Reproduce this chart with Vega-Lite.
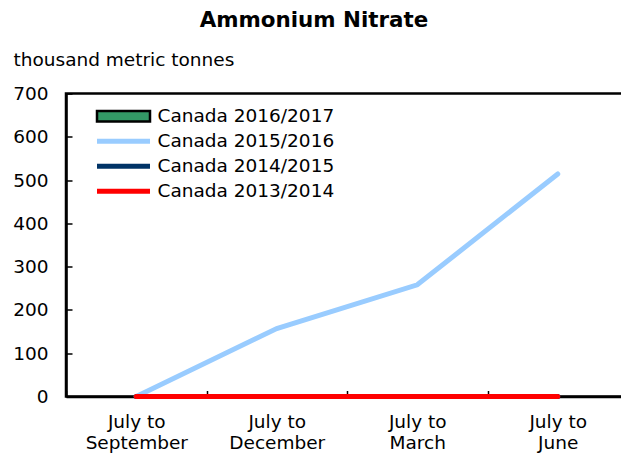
{
  "$schema": "https://vega.github.io/schema/vega-lite/v6.json",
  "autosize": "none",
  "width": 562,
  "height": 303,
  "padding": {"left": 66, "top": 93.5, "right": 0, "bottom": 58.5},
  "background": "white",
  "title": {
    "text": "Ammonium Nitrate",
    "font": "DejaVu Sans",
    "fontSize": 21.4,
    "fontWeight": "bold",
    "color": "black",
    "anchor": "middle",
    "frame": "group",
    "dx": -33,
    "baseline": "alphabetic",
    "offset": 2
  },
  "config": {
    "font": "DejaVu Sans",
    "view": {"stroke": "black", "strokeWidth": 2.5},
    "axis": {
      "labelFont": "DejaVu Sans",
      "labelFontSize": 18.5,
      "labelColor": "black",
      "titleFont": "DejaVu Sans",
      "titleFontSize": 18.5,
      "titleFontWeight": "normal",
      "titleColor": "black",
      "domainColor": "black",
      "domainWidth": 2.5,
      "tickColor": "black",
      "tickWidth": 1.5,
      "grid": false
    },
    "legend": {
      "labelFont": "DejaVu Sans",
      "labelFontSize": 18.5,
      "labelColor": "black",
      "labelLimit": 400
    }
  },
  "data": {
    "values": [
      {"period": "July to September", "series": "Canada 2016/2017", "value": null},
      {"period": "July to December", "series": "Canada 2016/2017", "value": null},
      {"period": "July to March", "series": "Canada 2016/2017", "value": null},
      {"period": "July to June", "series": "Canada 2016/2017", "value": null},
      {"period": "July to September", "series": "Canada 2015/2016", "value": 0},
      {"period": "July to December", "series": "Canada 2015/2016", "value": 157},
      {"period": "July to March", "series": "Canada 2015/2016", "value": 258},
      {"period": "July to June", "series": "Canada 2015/2016", "value": 514},
      {"period": "July to September", "series": "Canada 2014/2015", "value": 0},
      {"period": "July to December", "series": "Canada 2014/2015", "value": 0},
      {"period": "July to March", "series": "Canada 2014/2015", "value": 0},
      {"period": "July to June", "series": "Canada 2014/2015", "value": 0},
      {"period": "July to September", "series": "Canada 2013/2014", "value": 0},
      {"period": "July to December", "series": "Canada 2013/2014", "value": 0},
      {"period": "July to March", "series": "Canada 2013/2014", "value": 0},
      {"period": "July to June", "series": "Canada 2013/2014", "value": 0}
    ]
  },
  "encoding": {
    "x": {
      "field": "period",
      "type": "nominal",
      "sort": ["July to September", "July to December", "July to March", "July to June"],
      "scale": {"paddingInner": 0, "paddingOuter": 0},
      "axis": {
        "title": null,
        "labelAngle": 0,
        "labelExpr": "datum.label ? ['July to', substring(datum.label, 8)] : ''",
        "labelLineHeight": 21,
        "tickBand": "extent",
        "tickSize": -6,
        "labelPadding": 22
      }
    },
    "y": {
      "field": "value",
      "type": "quantitative",
      "scale": {"domain": [0, 700], "nice": false, "zero": true},
      "axis": {
        "title": "thousand metric tonnes",
        "titleAngle": 0,
        "titleAlign": "left",
        "titleBaseline": "alphabetic",
        "titleX": -53,
        "titleY": -28.5,
        "values": [0, 100, 200, 300, 400, 500, 600, 700],
        "tickSize": -6,
        "labelPadding": 24
      }
    },
    "stroke": {
      "field": "series",
      "type": "nominal",
      "scale": {
        "domain": ["Canada 2016/2017", "Canada 2015/2016", "Canada 2014/2015", "Canada 2013/2014"],
        "range": ["#000000", "#99ccff", "#003366", "#ff0000"]
      },
      "legend": {
        "title": null,
        "orient": "none",
        "legendX": 31,
        "legendY": 13.5,
        "padding": 0,
        "symbolSize": 2809,
        "labelOffset": 42,
        "rowPadding": 4,
        "symbolOffset": 0,
        "encode": {
          "symbols": {
            "update": {
              "x": {"value": 26.5},
              "shape": {"signal": "datum.value === 'Canada 2016/2017' ? 'M-1,-0.2H1V0.2H-1Z' : 'M-1,0H1'"},
              "strokeWidth": {"signal": "datum.value === 'Canada 2016/2017' ? 2.5 : 5"},
              "strokeOpacity": {"value": 1},
              "fillOpacity": {"value": 1},
              "opacity": {"value": 1}
            }
          }
        }
      }
    }
  },
  "layer": [
    {
      "transform": [{"filter": "datum.series === 'Canada 2016/2017'"}],
      "mark": {"type": "bar", "strokeWidth": 2},
      "encoding": {
        "fill": {
          "field": "series",
          "type": "nominal",
          "scale": {
            "domain": ["Canada 2016/2017", "Canada 2015/2016", "Canada 2014/2015", "Canada 2013/2014"],
            "range": ["#339966", "transparent", "transparent", "transparent"]
          },
          "legend": {
            "title": null,
            "orient": "none",
            "legendX": 31,
            "legendY": 13.5,
            "padding": 0,
            "symbolSize": 2809,
            "labelOffset": 42,
            "rowPadding": 4,
            "symbolOffset": 0,
            "encode": {
              "symbols": {
                "update": {
                  "x": {"value": 26.5},
                  "shape": {"signal": "datum.value === 'Canada 2016/2017' ? 'M-1,-0.2H1V0.2H-1Z' : 'M-1,0H1'"},
                  "strokeWidth": {"signal": "datum.value === 'Canada 2016/2017' ? 2.5 : 5"},
                  "strokeOpacity": {"value": 1},
                  "fillOpacity": {"value": 1},
                  "opacity": {"value": 1}
                }
              }
            }
          }
        }
      }
    },
    {
      "transform": [{"filter": "datum.series !== 'Canada 2016/2017'"}],
      "mark": {"type": "line", "strokeWidth": 5, "strokeCap": "round"},
      "encoding": {}
    }
  ]
}
